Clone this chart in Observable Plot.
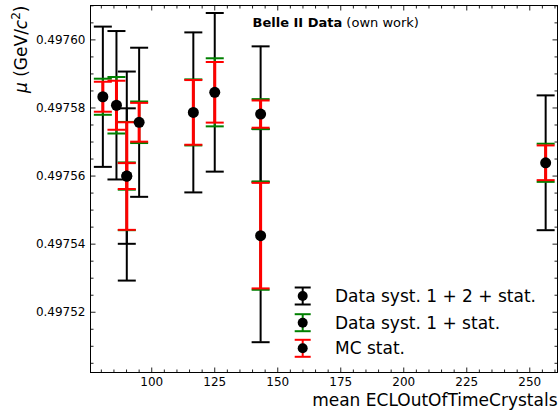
<!DOCTYPE html>
<html><head><meta charset="utf-8">
<script src="https://cdn.jsdelivr.net/npm/d3@7"></script>
<script src="https://cdn.jsdelivr.net/npm/@observablehq/plot@0.6"></script>
<style>body{margin:0;background:#fff;} svg{font-family:"DejaVu Sans";}</style>
</head><body><div id="chart"></div>
<script>
// ---- data ----
const xVals    = [80.6, 86.0, 90.1, 90.1, 95.0, 116.5, 125.0, 143.2, 143.2, 256.3];
const muVals   = [0.4975833, 0.4975808, 0.4975600, 0.4975600, 0.4975758, 0.4975787, 0.4975846, 0.4975782, 0.4975425, 0.4975639];
const errTotal = [2.06e-5, 2.18e-5, 1.99e-5, 3.07e-5, 2.19e-5, 2.35e-5, 2.33e-5, 1.99e-5, 3.13e-5, 1.98e-5]; // Data syst. 1 + 2 + stat.
const errSyst1 = [5.3e-6, 8.3e-6, 4.0e-6, 1.59e-5, 6.1e-6, 9.7e-6, 1.00e-5, 4.4e-6, 1.59e-5, 5.6e-6];       // Data syst. 1 + stat.
const errMC    = [4.4e-6, 7.2e-6, 3.8e-6, 1.58e-5, 5.7e-6, 9.5e-6, 8.9e-6, 4.0e-6, 1.55e-5, 5.1e-6];       // MC stat.
const seriesNames = ["Data syst. 1 + 2 + stat.", "Data syst. 1 + stat.", "MC stat."];
const seriesColors = ["black", "green", "red"];
const xTicks = [100, 125, 150, 175, 200, 225, 250];
const yTicks = [0.49752, 0.49754, 0.49756, 0.49758, 0.49760];
const xDomain = [75.7, 261];
const yDomain = [0.4975023, 0.4976101];
const xLabel = "mean ECLOutOfTimeCrystals";
const yLabel = "μ (GeV/c2)";
const title = "Belle II Data (own work)";

const data = xVals.map((x, i) => ({x, mu: muVals[i], e: [errTotal[i], errSyst1[i], errMC[i]]}));

// custom symbols
const capSym = {draw(ctx, size) { const w = Math.sqrt(size / Math.PI); ctx.moveTo(-w, 0); ctx.lineTo(w, 0); }};
const tickSym = (dx, dy) => ({draw(ctx) { ctx.moveTo(0, 0); ctx.lineTo(dx, dy); }});

const xMinor = d3.range(80, 261, 5).filter(v => v % 25 !== 0);
const yMinor = d3.range(0, 22).map(i => +(0.497505 + i * 0.000005).toFixed(6)).filter(v => v <= yDomain[1] && !yTicks.some(t => Math.abs(t - v) < 1e-9));

const tickMarks = [];
for (const [vals, len] of [[xTicks, 5], [xMinor, 3]]) {
  tickMarks.push(Plot.dot(vals, {x: d => d, y: () => yDomain[0], symbol: tickSym(0, -len), r: 1, stroke: "#222", strokeWidth: 1}));
  tickMarks.push(Plot.dot(vals, {x: d => d, y: () => yDomain[1], symbol: tickSym(0, len), r: 1, stroke: "#222", strokeWidth: 1}));
}
for (const [vals, len] of [[yTicks, 5], [yMinor, 3]]) {
  tickMarks.push(Plot.dot(vals, {y: d => d, x: () => xDomain[0], symbol: tickSym(len, 0), r: 1, stroke: "#222", strokeWidth: 1}));
  tickMarks.push(Plot.dot(vals, {y: d => d, x: () => xDomain[1], symbol: tickSym(-len, 0), r: 1, stroke: "#222", strokeWidth: 1}));
}

const barMarks = [];
[[0, 2], [1, 2], [2, 3]].forEach(([k, w]) => {
  const c = seriesColors[k];
  barMarks.push(Plot.ruleX(data, {x: "x", y1: d => d.mu - d.e[k], y2: d => d.mu + d.e[k], stroke: c, strokeWidth: w}));
  barMarks.push(Plot.dot(data, {x: "x", y: d => d.mu + d.e[k], symbol: capSym, r: 9, stroke: c, strokeWidth: 2, fill: "none"}));
  barMarks.push(Plot.dot(data, {x: "x", y: d => d.mu - d.e[k], symbol: capSym, r: 9, stroke: c, strokeWidth: 2, fill: "none"}));
});

const chart = Plot.plot({
  width: 558, height: 420,
  marginLeft: 90, marginRight: 1, marginTop: 5, marginBottom: 48,
  style: {fontFamily: "DejaVu Sans", fontSize: "12px", background: "white"},
  x: {domain: xDomain, label: null},
  y: {domain: yDomain, label: null},
  marks: [
    ...barMarks,
    Plot.dot(data, {x: "x", y: "mu", r: 5.5, fill: "black"}),
    ...tickMarks,
    Plot.frame({stroke: "black", strokeWidth: 1}),
    Plot.axisX({ticks: xTicks, tickSize: 0, tickPadding: 5, tickFormat: d => String(d), label: null}),
    Plot.axisY({ticks: yTicks, tickSize: 0, tickPadding: 5, tickFormat: d => d.toFixed(5), label: null}),
    Plot.text([xLabel], {text: d => d, frameAnchor: "bottom-right", textAnchor: "end", lineAnchor: "middle", dy: 28, fontSize: 17}),
    Plot.text([yLabel], {text: d => d, frameAnchor: "top-left", textAnchor: "end", lineAnchor: "middle", rotate: -90, dx: -69, fontSize: 17}),
    Plot.text([title], {text: d => d, frameAnchor: "top-left", textAnchor: "start", lineAnchor: "middle", dx: 162, dy: 17, fontSize: 13})
  ]
});
document.getElementById("chart").appendChild(chart);

const svg = d3.select(chart);
// rich text for y label
svg.selectAll("text").filter(function() { return this.textContent === yLabel; }).each(function() {
  const t = d3.select(this); t.text("");
  t.append("tspan").attr("font-style", "italic").text("μ");
  t.append("tspan").text(" (GeV/");
  t.append("tspan").attr("font-style", "italic").text("c");
  t.append("tspan").attr("font-size", 12).attr("dy", -7).text("2");
  t.append("tspan").attr("dy", 7).text(")");
});
svg.selectAll("text").filter(function() { return this.textContent === title; }).each(function() {
  const t = d3.select(this); t.text("");
  t.append("tspan").attr("font-weight", "bold").text("Belle II Data");
  t.append("tspan").text(" (own work)");
});

// legend
const lg = svg.append("g").attr("class", "legend").attr("text-anchor", "start");
const rowsY = [296, 322.7, 348.3];
seriesNames.forEach((name, i) => {
  const cx = 302.7, cy = rowsY[i], c = seriesColors[i];
  lg.append("line").attr("x1", cx).attr("x2", cx).attr("y1", cy - 8.5).attr("y2", cy + 8.5).attr("stroke", c).attr("stroke-width", 2);
  lg.append("line").attr("x1", cx - 8).attr("x2", cx + 8).attr("y1", cy - 8.5).attr("y2", cy - 8.5).attr("stroke", c).attr("stroke-width", 2);
  lg.append("line").attr("x1", cx - 8).attr("x2", cx + 8).attr("y1", cy + 8.5).attr("y2", cy + 8.5).attr("stroke", c).attr("stroke-width", 2);
  lg.append("circle").attr("cx", cx).attr("cy", cy).attr("r", 5).attr("fill", "black");
  lg.append("text").attr("x", 335).attr("y", cy).attr("dy", "0.35em").attr("text-anchor", "start").attr("font-size", 17).attr("fill", "black").text(name);
});
</script></body></html>
